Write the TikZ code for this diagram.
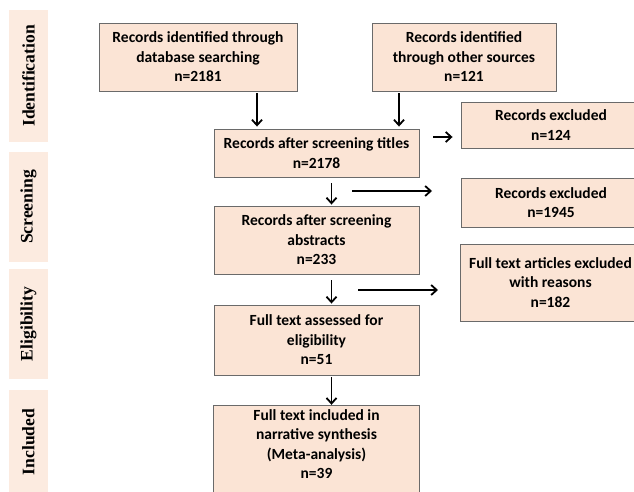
\documentclass[tikz,border=0pt]{standalone}
\usepackage{fontspec}
\setmainfont{Carlito}
\newfontfamily\bandfont{Liberation Serif}
\usetikzlibrary{arrows.meta,backgrounds}
\definecolor{boxfill}{HTML}{FBE4D5}
\definecolor{bandfill}{HTML}{FCEBE0}
\definecolor{boxline}{HTML}{6A6A6A}
\tikzset{
  box/.style={draw=boxline, line width=0.9pt, fill=boxfill, align=center, inner sep=0pt,
    font=\fontsize{15.5}{19.5}\selectfont\bfseries},
  textonly/.style={align=center, inner sep=0pt, font=\fontsize{15.5}{19.5}\selectfont\bfseries},
  band/.style={fill=bandfill, rotate=90, inner sep=0pt, minimum height=39pt,
    font=\bandfont\fontsize{17.6}{20}\selectfont\bfseries},
  arr/.style={line width=1.8pt, -{Straight Barb[length=5.5pt,width=10pt,line width=1.8pt]}}
}
\begin{document}
\begin{tikzpicture}[x=1pt,y=-1pt]
\useasboundingbox (0,0) rectangle (634,492);
\clip (0,0) rectangle (634,492);
% phase bands
\node[band, minimum width=132pt] (bid) at (28.5,76) {Identification};
\node[band, minimum width=110pt] (bsc) at (28.5,207) {Screening};
\node[band, minimum width=110pt] (bel) at (28.5,324) {Eligibility};
\node[band, minimum width=104pt] (bin) at (28.5,442) {Included};
% boxes
\node[box, minimum width=198pt, minimum height=68pt] (db) at (198,57)
  {Records identified through\\database searching\\n=2181};
\node[box, minimum width=184pt, minimum height=68pt] (other) at (464,57)
  {Records identified\\through other sources\\n=121};
\node[box, minimum width=205pt, minimum height=48pt] (titles) at (316.5,153)
  {Records after screening titles\\n=2178};
\node[box, minimum width=180pt, minimum height=46pt] (exc1) at (551,125)
  {Records excluded\\n=124};
\node[box, minimum width=205pt, minimum height=68pt] (abstr) at (316.5,240)
  {Records after screening\\abstracts\\n=233};
\node[box, minimum width=180pt, minimum height=49pt] (exc2) at (551,202.5)
  {Records excluded\\n=1945};
\node[box, minimum width=205pt, minimum height=70pt] (assess) at (316.5,340)
  {Full text assessed for\\eligibility\\n=51};
\node[box, minimum width=181pt, minimum height=77pt] (exc3) at (550.5,282.5)
  {Full text articles excluded\\with reasons\\n=182};
\node[textonly, minimum width=205pt, minimum height=76pt] (incl) at (316.5,444)
  {Full text included in\\narrative synthesis\\(Meta-analysis)\\n=39};
\begin{scope}[on background layer]
  \draw[draw=boxline, line width=0.9pt, fill=boxfill] (incl.north west) rectangle ([yshift=-20pt]incl.south east);
\end{scope}
% arrow guide coordinates
\coordinate (c1) at (257,0);
\coordinate (c2) at (399,0);
\coordinate (c3) at (331.5,0);
\coordinate (r1) at (0,137);
\coordinate (s2) at (352,191);
\coordinate (e2) at (432,191);
\coordinate (s3) at (358,290);
\coordinate (e3) at (438,290);
% arrows
\draw[arr, shorten <=2pt, shorten >=2pt] (db.south -| c1) -- (titles.north -| c1);
\draw[arr, shorten <=2pt, shorten >=2pt] (other.south -| c2) -- (titles.north -| c2);
\draw[arr, shorten <=14pt, shorten >=8pt] (titles.east |- r1) -- (exc1.west |- r1);
\draw[arr, shorten <=6pt, shorten >=1pt] (titles.south -| c3) -- (abstr.north -| c3);
\draw[arr] (s2) -- (e2);
\draw[arr, shorten <=6pt, shorten >=1pt] (abstr.south -| c3) -- (assess.north -| c3);
\draw[arr] (s3) -- (e3);
\draw[arr, shorten <=2pt, shorten >=1pt] (assess.south -| c3) -- (incl.north -| c3);
\end{tikzpicture}
\end{document}
